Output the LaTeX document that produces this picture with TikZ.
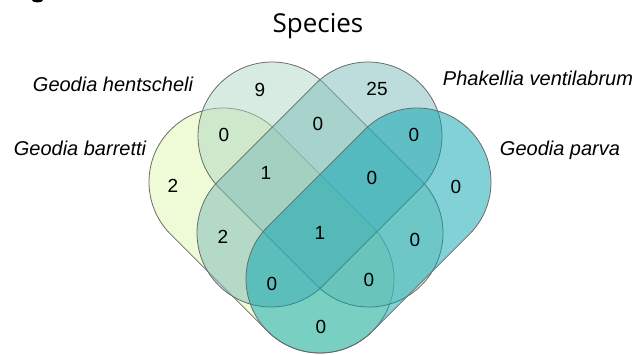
\documentclass[tikz,border=0pt]{standalone}
\usepackage{fontspec}
\setmainfont{Liberation Sans}
\newfontfamily\titlefont{Open Sans}
\definecolor{setA}{HTML}{DDF7AD}
\definecolor{setB}{HTML}{AFD7C1}
\definecolor{setC}{HTML}{7BB9B9}
\definecolor{setD}{HTML}{05A3AF}
\definecolor{edge}{HTML}{6A6A6A}
\begin{document}
\begin{tikzpicture}[x=1pt,y=1pt,
  setshape/.style={fill opacity=0.5, draw=edge, line width=0.8pt},
  count/.style={font=\fontsize{19}{19}\selectfont, inner sep=0pt},
  setname/.style={font=\fontsize{20}{20}\selectfont\itshape, inner sep=0pt, anchor=base}]
\useasboundingbox (0,0) rectangle (640,354);

% stray glyph foot cut by the top edge
\fill[black] (32,354) arc[start angle=180, end angle=360, x radius=5.5, y radius=2.5] -- cycle;

% four capsules: half-width 74, axis length 137.18
% Geodia barretti
\path[setshape, fill=setA] (223,172) ++(45:74) -- ++(-45:137.18)
  arc[start angle=45, end angle=-135, radius=74] -- ++(135:137.18)
  arc[start angle=-135, end angle=-315, radius=74] -- cycle;
% Geodia hentscheli
\path[setshape, fill=setB] (272,218) ++(45:74) -- ++(-45:137.18)
  arc[start angle=45, end angle=-135, radius=74] -- ++(135:137.18)
  arc[start angle=-135, end angle=-315, radius=74] -- cycle;
% Phakellia ventilabrum
\path[setshape, fill=setC] (368,218) ++(-45:74) -- ++(-135:137.18)
  arc[start angle=-45, end angle=-225, radius=74] -- ++(45:137.18)
  arc[start angle=-225, end angle=-405, radius=74] -- cycle;
% Geodia parva
\path[setshape, fill=setD] (417,172) ++(-45:74) -- ++(-135:137.18)
  arc[start angle=-45, end angle=-225, radius=74] -- ++(45:137.18)
  arc[start angle=-225, end angle=-405, radius=74] -- cycle;

% title
\node[font=\titlefont\fontsize{26}{26}\selectfont, inner sep=0pt, anchor=base] (title) at (318,321) {Species};

% set names
\node[setname] (nA) at (80,198) {Geodia barretti};
\node[setname] (nB) at (113,262) {Geodia hentscheli};
\node[setname] (nC) at (538,268) {Phakellia ventilabrum};
\node[setname] (nD) at (560,198) {Geodia parva};

% region counts
\node[count] (b) at (260,264) {9};
\node[count] (c) at (377,265) {25};
\node[count] (ab) at (224,219) {0};
\node[count] (bc) at (318,230) {0};
\node[count] (cd) at (414,219) {0};
\node[count] (abc) at (266,181) {1};
\node[count] (bcd) at (372,176) {0};
\node[count] (a) at (173,168) {2};
\node[count] (d) at (456,167) {0};
\node[count] (ac) at (223,117) {2};
\node[count] (abcd) at (320,121) {1};
\node[count] (bd) at (415,114) {0};
\node[count] (acd) at (272,70) {0};
\node[count] (abd) at (369,74) {0};
\node[count] (ad) at (321,27) {0};
\end{tikzpicture}
\end{document}
